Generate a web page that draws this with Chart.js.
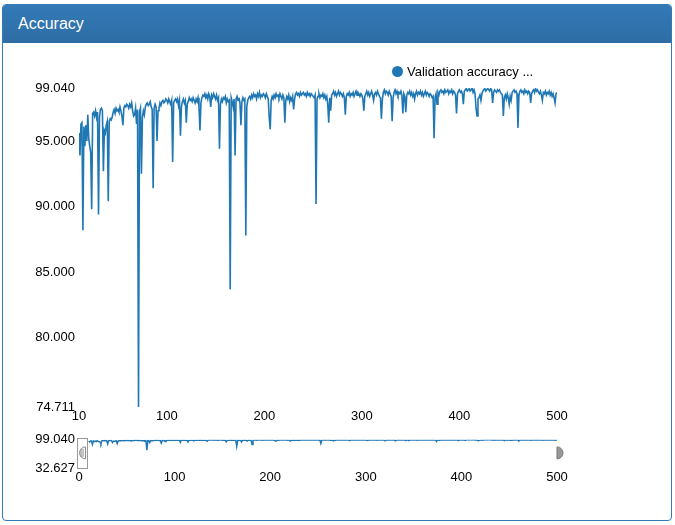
<!DOCTYPE html>
<html>
<head>
<meta charset="utf-8">
<script src="https://cdn.jsdelivr.net/npm/chart.js@4/dist/chart.umd.min.js"></script>
<style>
  body { margin: 0; background: #fff; font-family: "Liberation Sans", Arial, sans-serif; }
  .panel {
    position: absolute; left: 2px; top: 4px; width: 668px; height: 515px;
    border: 1px solid #337ab7; border-radius: 4px; overflow: hidden;
  }
  .panel-heading {
    height: 38px; box-sizing: border-box; padding: 10px 15px;
    background: linear-gradient(to bottom, #337ab7 0, #2e6da4 100%);
    color: #fff; font-size: 16px; line-height: 18px;
  }
  canvas { position: absolute; left: 0; }
  #mainChart { top: 50px; }
  #navChart { top: 428px; }
  .legend { position: absolute; left: 392px; top: 64px; font-size: 13px; color: #000; white-space: nowrap; }
  .legend span.dot {
    display: inline-block; width: 11px; height: 11px; border-radius: 50%;
    background: #1f77b4; vertical-align: -1px; margin-right: 4px;
  }
</style>
</head>
<body>
<div class="panel"><div class="panel-heading">Accuracy</div></div>
<canvas id="mainChart" width="600" height="380"></canvas>
<canvas id="navChart" width="600" height="65"></canvas>
<div class="legend"><span class="dot"></span>Validation accuracy ...</div>

<script>
// validation accuracy per epoch, epochs 10..500
const firstEpoch = 10;
const accuracy = [
  95.6, 93.9, 96.3, 96.4, 88.2, 96.1, 94.6, 96.2, 95.0, 97.0,
  95.2, 94.6, 94.1, 89.8, 97.1, 97.2, 96.9, 97.3, 96.8, 97.2,
  89.4, 96.8, 97.4, 97.5, 97.3, 92.7, 95.8, 95.6, 96.2, 96.5,
  90.4, 96.5, 96.7, 96.6, 96.8, 97.2, 97.4, 97.1, 97.5, 97.3,
  97.4, 97.2, 97.6, 97.3, 96.9, 96.2, 97.5, 97.7, 97.6, 97.8,
  97.7, 97.5, 97.8, 97.6, 97.9, 97.3, 96.9, 97.0, 97.5, 96.3,
  97.4, 74.711, 97.2, 97.5, 92.5, 96.8, 97.3, 97.0, 97.6, 97.8,
  97.9, 97.7, 97.8, 98.0, 97.6, 97.4, 91.4, 97.5, 97.8, 97.6,
  95.0, 97.3, 97.5, 97.9, 97.7, 98.0, 98.1, 97.9, 98.0, 98.2,
  98.1, 97.9, 98.2, 98.0, 97.8, 98.1, 93.4, 97.9, 98.1, 98.2,
  98.0, 98.2, 97.7, 98.1, 95.4, 97.6, 98.0, 98.2, 97.9, 98.1,
  96.4, 97.8, 98.0, 98.3, 98.1, 98.2, 98.0, 98.3, 98.1, 97.9,
  98.2, 98.0, 98.3, 97.6, 95.8, 97.9, 98.3, 98.5, 98.4, 98.6,
  98.3, 98.5, 98.2, 98.6, 98.4, 97.6, 98.5, 98.3, 98.6, 98.4,
  98.2, 98.5, 98.1, 98.3, 94.4, 97.8, 98.2, 98.0, 98.3, 98.2,
  98.4, 97.9, 98.2, 98.0, 98.1, 83.7, 98.3, 98.0, 97.6, 98.2,
  93.9, 98.2, 98.4, 98.1, 98.3, 97.9, 96.2, 98.0, 98.3, 98.1,
  98.2, 87.8, 97.6, 98.1, 98.3, 98.4, 98.2, 98.5, 98.3, 98.6,
  98.4, 98.5, 98.2, 98.6, 98.4, 98.7, 98.3, 98.5, 98.4, 98.6,
  98.5, 98.3, 98.6, 98.4, 98.2, 96.8, 95.9, 98.1, 98.4, 98.2,
  98.5, 98.3, 98.6, 98.4, 98.5, 98.3, 98.6, 98.4, 98.2, 98.5,
  98.3, 96.4, 98.1, 98.4, 98.2, 98.5, 98.0, 98.3, 98.1, 98.4,
  97.4, 98.2, 98.6, 98.7, 98.5, 98.6, 98.4, 98.7, 98.5, 98.6,
  98.7, 98.5, 98.6, 98.4, 98.7, 98.5, 98.6, 98.4, 98.6, 98.5,
  98.4, 98.3, 98.5, 90.2, 98.2, 98.4, 98.6, 98.3, 98.5, 98.4,
  98.6, 98.3, 98.5, 98.2, 98.4, 97.8, 96.4, 98.3, 97.3, 98.5,
  98.6, 98.8, 98.5, 98.7, 98.4, 98.6, 98.8, 98.5, 98.7, 98.6,
  98.4, 98.6, 98.3, 97.0, 98.4, 98.6, 98.5, 98.7, 98.4, 98.6,
  98.5, 98.7, 98.4, 98.6, 98.8, 98.5, 98.7, 98.6, 98.4, 98.6,
  98.5, 98.2, 97.3, 98.4, 98.6, 98.8, 98.5, 98.7, 98.4, 98.6,
  98.8, 98.5, 98.1, 98.6, 98.7, 98.5, 98.8, 98.6, 98.4, 98.3,
  96.7, 98.2, 98.7, 98.9, 98.6, 98.8, 98.7, 98.5, 98.8, 98.6,
  98.4, 96.5, 98.3, 98.7, 98.9, 98.6, 98.8, 98.5, 98.7, 98.6,
  98.8, 98.5, 97.1, 98.6, 98.4, 97.2, 98.5, 98.7, 98.6, 98.8,
  98.5, 98.7, 98.4, 98.6, 98.2, 98.6, 98.8, 98.5, 98.7, 98.6,
  98.8, 98.5, 98.7, 98.4, 98.6, 98.8, 98.5, 98.7, 98.6, 98.4,
  98.6, 98.5, 98.3, 98.4, 95.2, 98.3, 98.6, 97.8, 98.7, 98.5,
  98.8, 98.9, 98.7, 98.8, 98.6, 98.9, 98.7, 98.8, 98.9, 98.6,
  98.8, 98.7, 98.9, 98.6, 98.8, 98.7, 98.5, 97.1, 98.6, 98.8,
  98.9, 98.7, 98.8, 98.6, 97.8, 98.8, 98.9, 99.0, 98.8, 98.9,
  99.0, 98.8, 98.9, 99.04, 98.7, 98.9, 98.6, 97.5, 96.9, 98.2,
  98.3, 98.5, 98.1, 98.6, 98.8, 98.9, 99.0, 98.8, 98.9, 99.0,
  98.9, 98.8, 99.0, 98.9, 97.9, 98.7, 98.9, 98.8, 98.7, 98.9,
  98.8, 98.9, 98.7, 98.6, 98.5, 96.9, 98.3, 98.5, 98.2, 98.6,
  98.3, 97.8, 98.4, 98.1, 98.7, 98.8, 98.9, 98.7, 98.8, 98.6,
  96.0, 98.5, 98.8, 98.9, 98.7, 98.8, 98.6, 98.9, 98.7, 98.8,
  98.6, 98.8, 98.7, 97.9, 98.6, 98.8, 98.9, 98.7, 99.0, 98.8,
  98.9, 98.7, 98.6, 98.8, 98.5, 98.1, 98.7, 98.6, 98.8, 98.5,
  98.7, 98.6, 98.8, 98.5, 98.7, 98.4, 98.6, 98.3, 97.9, 98.6, 98.7
];
const epochs = accuracy.map((_, i) => firstEpoch + i);

// axis ticks
const yTicks = [74.711, 80, 85, 90, 95, 99.04];
const xTicks = [10, 100, 200, 300, 400, 500];
const navYTicks = [32.627, 99.04];
const navXTicks = [0, 100, 200, 300, 400, 500];
const brushRange = [0, 10];

const lineColor = "#1f77b4";
const tickFont = { family: "'Liberation Sans', Arial, sans-serif", size: 13 };

const points = epochs.map((e, i) => ({ x: e, y: accuracy[i] }));

function fixedTicks(values) {
  return scale => { scale.ticks = values.map(v => ({ value: v })); };
}

function axes(xVals, yVals, yMin, yMax, xMin) {
  return {
    x: {
      type: "linear", min: xMin, max: 500,
      grid: { display: false, drawTicks: false }, border: { display: false },
      afterBuildTicks: fixedTicks(xVals),
      afterFit: s => { s.height = 20; },
      ticks: { color: "#000", font: tickFont, padding: 2, maxRotation: 0, autoSkip: false, callback: v => v }
    },
    y: {
      type: "linear", min: yMin, max: yMax,
      grid: { display: false, drawTicks: false }, border: { display: false },
      afterBuildTicks: fixedTicks(yVals),
      afterFit: s => { s.width = 79; },
      ticks: { color: "#000", font: tickFont, padding: 4, autoSkip: false, callback: v => v.toFixed(3) }
    }
  };
}

// main chart
new Chart(document.getElementById("mainChart"), {
  type: "line",
  data: {
    datasets: [{
      label: "Validation accuracy",
      data: points,
      borderColor: lineColor,
      borderWidth: 1.6,
      pointRadius: 0,
      tension: 0
    }]
  },
  options: {
    responsive: false,
    animation: false,
    layout: { padding: { left: 0, right: 43, top: 38, bottom: 3 } },
    plugins: { legend: { display: false }, tooltip: { enabled: false } },
    scales: axes(xTicks, yTicks, 74.711, 99.04, 10)
  }
});

// brush window drawn over the navigator
const brushPlugin = {
  id: "brush",
  afterDatasetsDraw(chart) {
    const { ctx, chartArea, scales } = chart;
    const x0 = scales.x.getPixelForValue(brushRange[0]) - 2;
    const x1 = scales.x.getPixelForValue(brushRange[1]) - 2;
    const top = chartArea.top - 2, bottom = chartArea.bottom;
    const mid = (top + bottom) / 2;
    ctx.save();
    ctx.fillStyle = "rgba(255,255,255,0.6)";
    ctx.fillRect(x0, top, x1 - x0, bottom - top);
    ctx.strokeStyle = "#999";
    ctx.lineWidth = 1;
    ctx.strokeRect(Math.round(x0) + 0.5, Math.round(top) + 0.5, Math.round(x1 - x0), Math.round(bottom - top));
    // left handle
    ctx.beginPath();
    ctx.moveTo(x1 - 1, mid - 6);
    ctx.arc(x1 - 1, mid, 6, -Math.PI / 2, Math.PI / 2, true);
    ctx.closePath();
    ctx.fillStyle = "#fff";
    ctx.fill();
    ctx.strokeStyle = "#888";
    ctx.stroke();
    ctx.beginPath();
    ctx.moveTo(x1 - 3.5, mid - 4); ctx.lineTo(x1 - 3.5, mid + 4);
    ctx.moveTo(x1 - 5.5, mid - 4); ctx.lineTo(x1 - 5.5, mid + 4);
    ctx.stroke();
    // right handle
    const xr = scales.x.getPixelForValue(500);
    ctx.beginPath();
    ctx.moveTo(xr, mid - 6);
    ctx.arc(xr, mid, 6, -Math.PI / 2, Math.PI / 2, false);
    ctx.closePath();
    ctx.fillStyle = "#999";
    ctx.fill();
    ctx.strokeStyle = "#777";
    ctx.stroke();
    ctx.restore();
  }
};

// navigator chart
new Chart(document.getElementById("navChart"), {
  type: "line",
  data: {
    datasets: [{
      data: points,
      borderColor: lineColor,
      borderWidth: 1.5,
      pointRadius: 0,
      tension: 0
    }]
  },
  options: {
    responsive: false,
    animation: false,
    layout: { padding: { left: 0, right: 43, top: 10, bottom: 5 } },
    plugins: { legend: { display: false }, tooltip: { enabled: false } },
    scales: axes(navXTicks, navYTicks, 32.627, 99.04, 0)
  },
  plugins: [brushPlugin]
});
</script>
</body>
</html>
